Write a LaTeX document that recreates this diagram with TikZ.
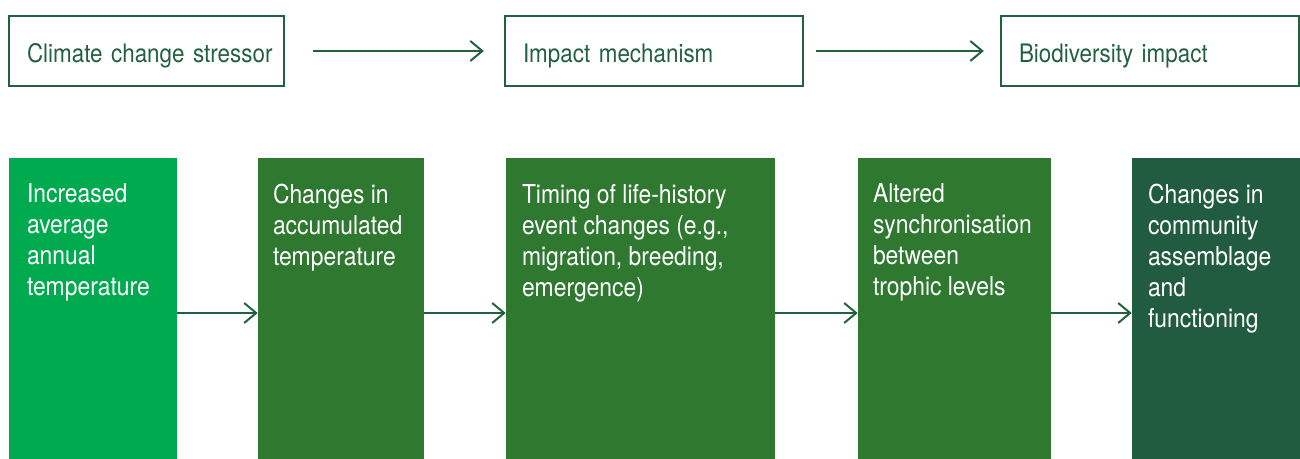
\documentclass[tikz,border=0pt]{standalone}
\usepackage{fontspec}
\setmainfont{TeX Gyre Heros}[FakeStretch=0.88]
\usepackage{tikz}
\usetikzlibrary{arrows.meta}
\definecolor{pine}{HTML}{22603F}
\definecolor{leaf}{HTML}{00AA4F}
\definecolor{moss}{HTML}{2E7830}
\definecolor{spruce}{HTML}{215C40}
\tikzstyle{stage}=[draw=pine,line width=1.7pt,text=pine,align=left,inner xsep=13.5pt,minimum height=52.5pt,text height=18pt,text depth=1pt,font=\fontsize{19.1}{23}\selectfont]
\tikzstyle{block}=[minimum height=232.5pt,inner sep=0pt]
\tikzstyle{blocktext}=[text=white,align=left,anchor=north west,inner sep=0pt,font=\fontsize{19.5}{23.25}\selectfont]
\tikzstyle{edge}=[draw=pine,line width=1.5pt,-{Straight Barb[length=9pt,width=15pt]}]

\begin{document}
\begin{tikzpicture}[x=0.75pt,y=-0.75pt]
  \useasboundingbox (0,0) rectangle (1300,459);
  \clip (0,0) rectangle (1300,459);
  % header row
  \node[stage,text width=179.25pt] (stressor) at (146.5,51) {\mbox{Climate change stressor}};
  \node[stage,text width=196.5pt] (mechanism) at (654,51) {Impact mechanism};
  \node[stage,text width=196.5pt] (impact) at (1150,51) {Biodiversity impact};
  \draw[edge,shorten <=21pt,shorten >=15pt] (stressor) -- (mechanism);
  \draw[edge,shorten <=9pt,shorten >=12pt] (mechanism) -- (impact);
  % chain of blocks
  \node[block,fill=leaf,minimum width=126pt] (temp) at (93,313) {};
  \node[block,fill=moss,minimum width=124.5pt] (accum) at (341,313) {};
  \node[block,fill=moss,minimum width=201.75pt] (timing) at (640.5,313) {};
  \node[block,fill=moss,minimum width=144.75pt] (sync) at (954.5,313) {};
  \node[block,fill=spruce,minimum width=126pt] (community) at (1216,313) {};
  \node[blocktext] (temptext) at ([shift={(18,26)}]temp.north west) {Increased\\average\\annual\\temperature};
  \node[blocktext] (accumtext) at ([shift={(15,26)}]accum.north west) {Changes in\\accumulated\\temperature};
  \node[blocktext] (timingtext) at ([shift={(16,26)}]timing.north west) {Timing of life-history\\event changes (e.g.,\\migration, breeding,\\emergence)};
  \node[blocktext] (synctext) at ([shift={(15,26)}]sync.north west) {Altered\\synchronisation\\between\\trophic levels};
  \node[blocktext] (communitytext) at ([shift={(16,26)}]community.north west) {Changes in\\community\\assemblage\\and\\functioning};
  \draw[edge] (temp) -- (accum);
  \draw[edge] (accum) -- (timing);
  \draw[edge] (timing) -- (sync);
  \draw[edge] (sync) -- (community);
\end{tikzpicture}
\end{document}
